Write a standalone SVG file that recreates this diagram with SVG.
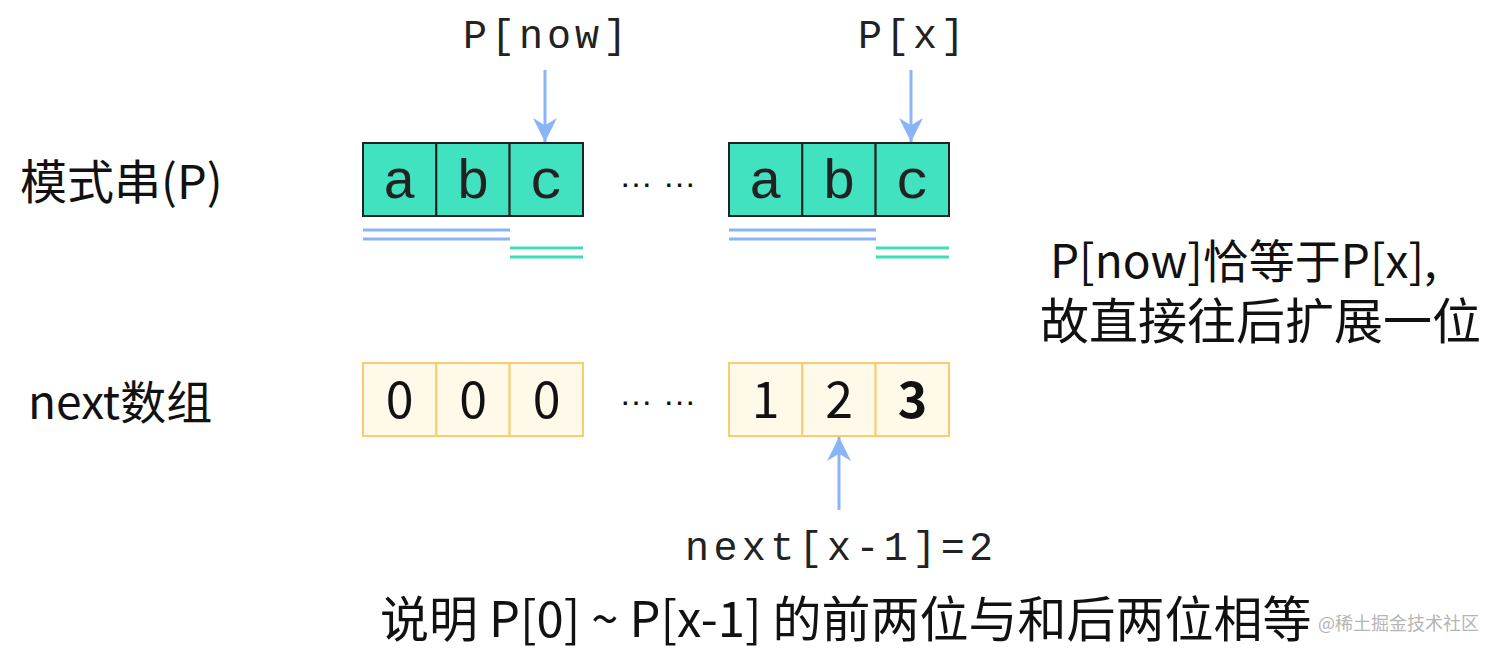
<svg xmlns="http://www.w3.org/2000/svg" width="1499" height="653" viewBox="0 0 1499 653">
<style>
.cjk{font-family:"Noto Sans CJK SC","Noto Sans",sans-serif;fill:#111}
.mono{font-family:"Liberation Mono","Courier New",monospace;fill:#222}
.pc{fill:#40E2BF;stroke:#222;stroke-width:2}
.nc{fill:#FFF9EA;stroke:#F8CD6C;stroke-width:2}
.blue{stroke:#8AB4F8;stroke-width:3;fill:none}
.green{stroke:#40DDB4;stroke-width:3;fill:none}
.dots{font-family:"Liberation Sans",sans-serif;font-size:34px;fill:#111}
</style>
<defs>
<marker id="ah" viewBox="0 0 10 10" refX="10" refY="5" markerWidth="8" markerHeight="8" markerUnits="strokeWidth" orient="auto">
<path d="M0,0 L10,5 L0,10 L3,5 z" fill="#8AB4F8"/>
</marker>
</defs>
<rect width="1499" height="653" fill="#fff"/>

<g id="label-P"><text class="cjk" x="20" y="199" font-size="47">模式串(P)</text></g>
<g id="label-next"><text class="cjk" x="28" y="419" font-size="46">next数组</text></g>

<g id="P-left">
<rect class="pc" x="363" y="143" width="73.3" height="73"/>
<rect class="pc" x="436.3" y="143" width="73.3" height="73"/>
<rect class="pc" x="509.6" y="143" width="73.4" height="73"/>
<text class="mono" x="399.5" y="198" font-size="56" text-anchor="middle">a</text>
<text class="mono" x="473" y="198" font-size="56" text-anchor="middle">b</text>
<text class="mono" x="546.5" y="198" font-size="56" text-anchor="middle">c</text>
</g>
<g id="P-right">
<rect class="pc" x="729" y="143" width="73.3" height="73"/>
<rect class="pc" x="802.3" y="143" width="73.3" height="73"/>
<rect class="pc" x="875.6" y="143" width="73.4" height="73"/>
<text class="mono" x="765.5" y="198" font-size="56" text-anchor="middle">a</text>
<text class="mono" x="839" y="198" font-size="56" text-anchor="middle">b</text>
<text class="mono" x="912.5" y="198" font-size="56" text-anchor="middle">c</text>
</g>
<g id="dots-top"><text class="dots" x="619" y="187">… …</text></g>

<g id="underlines">
<line class="blue" x1="363" y1="230" x2="510" y2="230"/>
<line class="blue" x1="363" y1="239" x2="510" y2="239"/>
<line class="green" x1="510" y1="248" x2="583" y2="248"/>
<line class="green" x1="510" y1="257" x2="583" y2="257"/>
<line class="blue" x1="729" y1="230" x2="876" y2="230"/>
<line class="blue" x1="729" y1="239" x2="876" y2="239"/>
<line class="green" x1="876" y1="248" x2="949" y2="248"/>
<line class="green" x1="876" y1="257" x2="949" y2="257"/>
</g>

<g id="next-left">
<rect class="nc" x="363" y="363" width="73.3" height="73"/>
<rect class="nc" x="436.3" y="363" width="73.3" height="73"/>
<rect class="nc" x="509.6" y="363" width="73.4" height="73"/>
<text class="cjk" x="399.5" y="418" font-size="50" text-anchor="middle">0</text>
<text class="cjk" x="473" y="418" font-size="50" text-anchor="middle">0</text>
<text class="cjk" x="546.5" y="418" font-size="50" text-anchor="middle">0</text>
</g>
<g id="next-right">
<rect class="nc" x="729" y="363" width="73.3" height="73"/>
<rect class="nc" x="802.3" y="363" width="73.3" height="73"/>
<rect class="nc" x="875.6" y="363" width="73.4" height="73"/>
<text class="cjk" x="765.5" y="418" font-size="50" text-anchor="middle">1</text>
<text class="cjk" x="839" y="418" font-size="50" text-anchor="middle">2</text>
<text class="cjk" x="912.5" y="418" font-size="50" font-weight="bold" text-anchor="middle">3</text>
</g>
<g id="dots-bottom"><text class="dots" x="619" y="405">… …</text></g>

<g id="lbl-pnow"><text class="mono" x="463" y="48" font-size="40" letter-spacing="4">P[now]</text></g>
<g id="lbl-px"><text class="mono" x="858" y="48" font-size="40" letter-spacing="3.5">P[x]</text></g>
<g id="lbl-next"><text class="mono" x="685" y="560" font-size="40" letter-spacing="4.4">next[x-1]=2</text></g>

<g id="connectors">
<line class="blue" x1="545" y1="70" x2="545" y2="142" marker-end="url(#ah)"/>
<line class="blue" x1="911" y1="70" x2="911" y2="142" marker-end="url(#ah)"/>
<line class="blue" x1="839" y1="510" x2="839" y2="437" marker-end="url(#ah)"/>
</g>

<g id="note">
<text class="cjk" x="1050" y="278" font-size="46">P[now]恰等于P[x],</text>
<text class="cjk" x="1040" y="339" font-size="49">故直接往后扩展一位</text>
</g>
<g id="conclusion"><text class="cjk" x="380" y="637" font-size="49">说明 P[0] ~ P[x-1] 的前两位与和后两位相等</text></g>
<g id="watermark"><text x="1318" y="630" font-size="18" fill="#b5b5b5" font-family="Noto Sans CJK SC, sans-serif">@稀土掘金技术社区</text></g>
</svg>
